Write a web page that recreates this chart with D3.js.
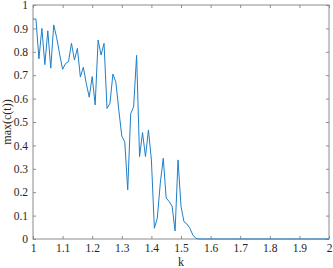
<!DOCTYPE html>
<html>
<head>
<meta charset="utf-8">
<script src="https://cdn.jsdelivr.net/npm/d3@7"></script>
<style>
  body { margin: 0; background: #fff; }
  svg text { font-family: "Liberation Serif", "Times New Roman", serif; fill: #262626; }
</style>
</head>
<body>
<svg id="chart"></svg>
<script>
// k runs 1.00..2.00 in steps of 0.01
const kValues = d3.range(101).map((i) => +(1 + i / 100).toFixed(2));

// max(c(t)), one per k
const maxC = [
  0.94, 0.94, 0.77, 0.90, 0.745, 0.89, 0.73, 0.915, 0.86, 0.79,
  0.725, 0.75, 0.758, 0.836, 0.765, 0.815, 0.692, 0.734, 0.665, 0.606,
  0.694, 0.573, 0.85, 0.786, 0.836, 0.558, 0.58, 0.705, 0.67, 0.55,
  0.44, 0.415, 0.21, 0.535, 0.565, 0.785, 0.352, 0.455, 0.352, 0.466,
  0.338, 0.046, 0.09, 0.238, 0.345, 0.175, 0.16, 0.14, 0.034, 0.338,
  0.14, 0.074, 0.064, 0.046, 0.017, 0.003, 0, 0, 0, 0,
  0, 0, 0, 0, 0, 0, 0, 0, 0, 0,
  0, 0, 0, 0, 0, 0, 0, 0, 0, 0,
  0, 0, 0, 0, 0, 0, 0, 0, 0, 0,
  0, 0, 0, 0, 0, 0, 0, 0, 0, 0,
  0
];

const xTicks = [1, 1.1, 1.2, 1.3, 1.4, 1.5, 1.6, 1.7, 1.8, 1.9, 2];
const yTicks = [0, 0.1, 0.2, 0.3, 0.4, 0.5, 0.6, 0.7, 0.8, 0.9, 1];

const width = 333, height = 268;
const margin = { top: 5, right: 4, bottom: 29, left: 33 };
const w = width - margin.left - margin.right;
const h = height - margin.top - margin.bottom;

const svg = d3.select("#chart").attr("width", width).attr("height", height);
const g = svg.append("g").attr("transform", `translate(${margin.left},${margin.top})`);

const x = d3.scaleLinear().domain([1, 2]).range([0, w]);
const y = d3.scaleLinear().domain([0, 1]).range([h, 0]);

const axisColor = "#8c8c8c";
const fmt = (d) => d3.format("")(+d.toFixed(1));

function styleAxis(sel, showText) {
  sel.select(".domain").remove();
  sel.selectAll(".tick line").attr("stroke", axisColor);
  sel.selectAll(".tick text")
    .style("font-size", "11.5px")
    .style("display", showText ? null : "none");
}

// bottom / left with labels, ticks pointing inward
g.append("g")
  .attr("transform", `translate(0,${h})`)
  .call(d3.axisBottom(x).tickValues(xTicks).tickFormat(fmt).tickSizeInner(-3).tickPadding(5))
  .call((s) => styleAxis(s, true));

g.append("g")
  .call(d3.axisLeft(y).tickValues(yTicks).tickFormat(fmt).tickSizeInner(-3).tickPadding(5))
  .call((s) => styleAxis(s, true));

// mirrored ticks on top / right
g.append("g")
  .call(d3.axisTop(x).tickValues(xTicks).tickSizeInner(-3))
  .call((s) => styleAxis(s, false));

g.append("g")
  .attr("transform", `translate(${w},0)`)
  .call(d3.axisRight(y).tickValues(yTicks).tickSizeInner(-3))
  .call((s) => styleAxis(s, false));

// box
g.append("rect")
  .attr("width", w)
  .attr("height", h)
  .attr("fill", "none")
  .attr("stroke", axisColor)
  .attr("stroke-width", 1);

const line = d3.line()
  .x((d, i) => x(kValues[i]))
  .y((d) => y(d));

g.append("path")
  .datum(maxC)
  .attr("fill", "none")
  .attr("stroke", "#1f7fc8")
  .attr("stroke-width", 1)
  .attr("stroke-linejoin", "round")
  .attr("d", line);

// axis titles
svg.append("text")
  .attr("x", margin.left + w / 2)
  .attr("y", height - 2)
  .attr("text-anchor", "middle")
  .style("font-size", "12px")
  .text("k");

svg.append("text")
  .attr("transform", `translate(11,${margin.top + h / 2}) rotate(-90)`)
  .attr("text-anchor", "middle")
  .style("font-size", "12px")
  .text("max(c(t))");
</script>
</body>
</html>
